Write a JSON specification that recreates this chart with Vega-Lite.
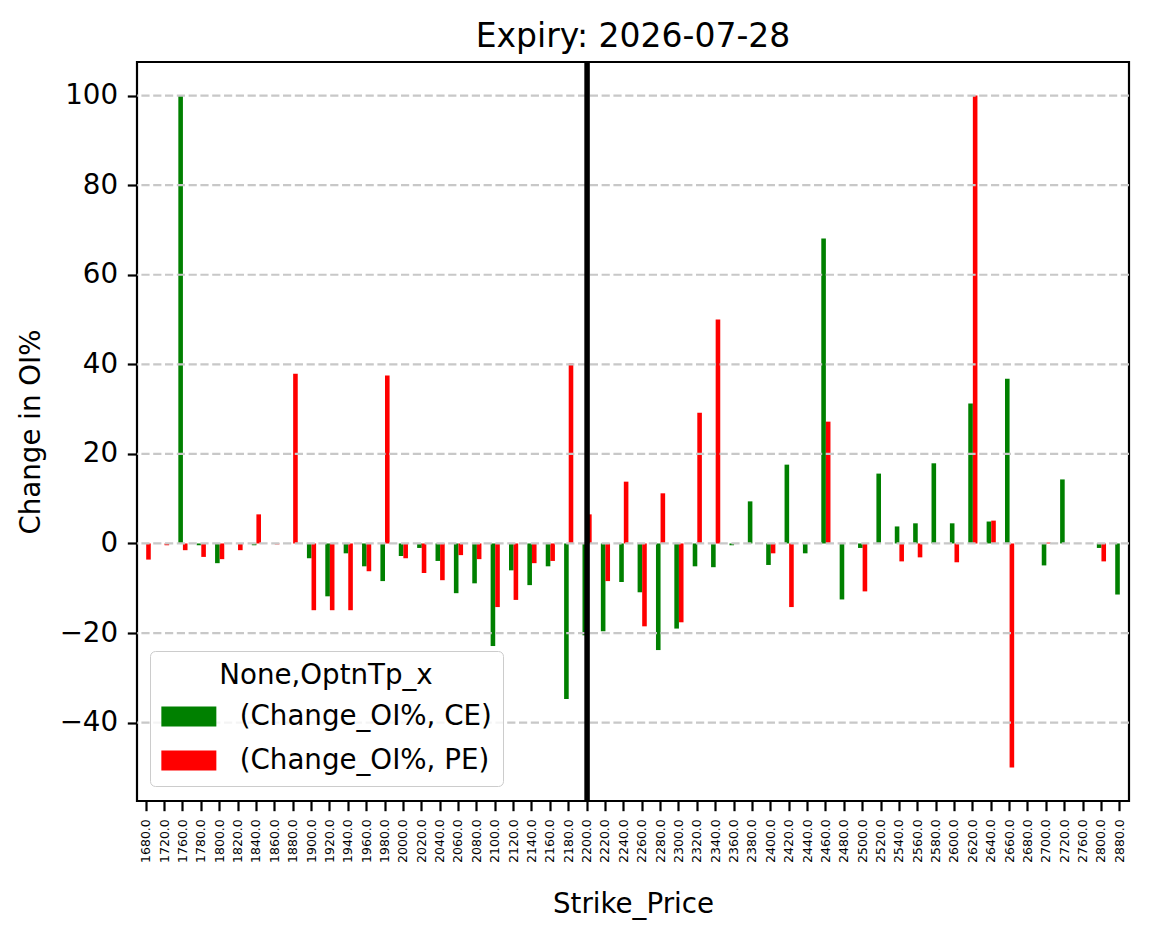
{
  "$schema": "https://vega.github.io/schema/vega-lite/v6.json",
  "width": 992,
  "height": 739,
  "autosize": {"type": "none"},
  "padding": {"left": 137, "top": 62, "right": 20, "bottom": 138},
  "title": {"text": "Expiry: 2026-07-28", "fontSize": 33, "font": "DejaVu Sans", "fontWeight": "normal", "color": "black", "offset": 5, "anchor": "middle"},
  "config": {
    "font": "DejaVu Sans",
    "view": {"stroke": "black", "strokeWidth": 2.2},
    "axis": {
      "domain": false, "grid": false, "ticks": true, "tickColor": "black", "tickWidth": 2.2, "tickSize": 9.7,
      "labelColor": "black", "labelPadding": 9.7, "titleColor": "black", "titleFontWeight": "normal", "titleFontSize": 27.7, "titleFont": "DejaVu Sans", "labelFont": "DejaVu Sans"
    },
    "legend": {
      "orient": "none", "legendX": 13, "legendY": 589,
      "titleFontSize": 27.7, "labelFontSize": 27.7, "titleFontWeight": "normal", "titleColor": "black", "labelColor": "black",
      "labelLimit": 0, "titleLimit": 0,
      "titleAnchor": "middle", "padding": 11, "strokeColor": "#cccccc", "fillColor": "rgba(255,255,255,0.8)", "cornerRadius": 5,
      "rowPadding": 15, "symbolType": "M-2.75,-1H2.75V1H-2.75Z", "symbolSize": 400, "symbolStrokeWidth": 0, "symbolOffset": 14, "labelOffset": 37, "titlePadding": 13
    }
  },
  "layer": [
    {
      "data": {"values": [
        {"strike": "1680.0", "series": "(Change_OI%, PE)", "value": -3.6},
        {"strike": "1720.0", "series": "(Change_OI%, PE)", "value": -0.4},
        {"strike": "1760.0", "series": "(Change_OI%, CE)", "value": 100},
        {"strike": "1760.0", "series": "(Change_OI%, PE)", "value": -1.5},
        {"strike": "1780.0", "series": "(Change_OI%, CE)", "value": -0.4},
        {"strike": "1780.0", "series": "(Change_OI%, PE)", "value": -3.0},
        {"strike": "1800.0", "series": "(Change_OI%, CE)", "value": -4.4},
        {"strike": "1800.0", "series": "(Change_OI%, PE)", "value": -3.5},
        {"strike": "1820.0", "series": "(Change_OI%, PE)", "value": -1.5},
        {"strike": "1840.0", "series": "(Change_OI%, CE)", "value": -0.4},
        {"strike": "1840.0", "series": "(Change_OI%, PE)", "value": 6.5},
        {"strike": "1860.0", "series": "(Change_OI%, PE)", "value": -0.2},
        {"strike": "1880.0", "series": "(Change_OI%, PE)", "value": 37.9},
        {"strike": "1900.0", "series": "(Change_OI%, CE)", "value": -3.3},
        {"strike": "1900.0", "series": "(Change_OI%, PE)", "value": -14.9},
        {"strike": "1920.0", "series": "(Change_OI%, CE)", "value": -11.8},
        {"strike": "1920.0", "series": "(Change_OI%, PE)", "value": -14.9},
        {"strike": "1940.0", "series": "(Change_OI%, CE)", "value": -2.2},
        {"strike": "1940.0", "series": "(Change_OI%, PE)", "value": -14.9},
        {"strike": "1960.0", "series": "(Change_OI%, CE)", "value": -5.1},
        {"strike": "1960.0", "series": "(Change_OI%, PE)", "value": -6.2},
        {"strike": "1980.0", "series": "(Change_OI%, CE)", "value": -8.4},
        {"strike": "1980.0", "series": "(Change_OI%, PE)", "value": 37.5},
        {"strike": "2000.0", "series": "(Change_OI%, CE)", "value": -2.8},
        {"strike": "2000.0", "series": "(Change_OI%, PE)", "value": -3.3},
        {"strike": "2020.0", "series": "(Change_OI%, CE)", "value": -1.0},
        {"strike": "2020.0", "series": "(Change_OI%, PE)", "value": -6.6},
        {"strike": "2040.0", "series": "(Change_OI%, CE)", "value": -3.9},
        {"strike": "2040.0", "series": "(Change_OI%, PE)", "value": -8.2},
        {"strike": "2060.0", "series": "(Change_OI%, CE)", "value": -11.1},
        {"strike": "2060.0", "series": "(Change_OI%, PE)", "value": -2.6},
        {"strike": "2080.0", "series": "(Change_OI%, CE)", "value": -8.9},
        {"strike": "2080.0", "series": "(Change_OI%, PE)", "value": -3.5},
        {"strike": "2100.0", "series": "(Change_OI%, CE)", "value": -22.9},
        {"strike": "2100.0", "series": "(Change_OI%, PE)", "value": -14.2},
        {"strike": "2120.0", "series": "(Change_OI%, CE)", "value": -6.0},
        {"strike": "2120.0", "series": "(Change_OI%, PE)", "value": -12.6},
        {"strike": "2140.0", "series": "(Change_OI%, CE)", "value": -9.3},
        {"strike": "2140.0", "series": "(Change_OI%, PE)", "value": -4.4},
        {"strike": "2160.0", "series": "(Change_OI%, CE)", "value": -5.1},
        {"strike": "2160.0", "series": "(Change_OI%, PE)", "value": -3.9},
        {"strike": "2180.0", "series": "(Change_OI%, CE)", "value": -34.7},
        {"strike": "2180.0", "series": "(Change_OI%, PE)", "value": 40.2},
        {"strike": "2200.0", "series": "(Change_OI%, CE)", "value": -20.5},
        {"strike": "2200.0", "series": "(Change_OI%, PE)", "value": 6.5},
        {"strike": "2220.0", "series": "(Change_OI%, CE)", "value": -19.6},
        {"strike": "2220.0", "series": "(Change_OI%, PE)", "value": -8.4},
        {"strike": "2240.0", "series": "(Change_OI%, CE)", "value": -8.6},
        {"strike": "2240.0", "series": "(Change_OI%, PE)", "value": 13.8},
        {"strike": "2260.0", "series": "(Change_OI%, CE)", "value": -10.9},
        {"strike": "2260.0", "series": "(Change_OI%, PE)", "value": -18.5},
        {"strike": "2280.0", "series": "(Change_OI%, CE)", "value": -23.8},
        {"strike": "2280.0", "series": "(Change_OI%, PE)", "value": 11.2},
        {"strike": "2300.0", "series": "(Change_OI%, CE)", "value": -19.0},
        {"strike": "2300.0", "series": "(Change_OI%, PE)", "value": -17.6},
        {"strike": "2320.0", "series": "(Change_OI%, CE)", "value": -5.1},
        {"strike": "2320.0", "series": "(Change_OI%, PE)", "value": 29.2},
        {"strike": "2340.0", "series": "(Change_OI%, CE)", "value": -5.3},
        {"strike": "2340.0", "series": "(Change_OI%, PE)", "value": 50.0},
        {"strike": "2360.0", "series": "(Change_OI%, CE)", "value": -0.4},
        {"strike": "2380.0", "series": "(Change_OI%, CE)", "value": 9.4},
        {"strike": "2400.0", "series": "(Change_OI%, CE)", "value": -4.8},
        {"strike": "2400.0", "series": "(Change_OI%, PE)", "value": -2.2},
        {"strike": "2420.0", "series": "(Change_OI%, CE)", "value": 17.6},
        {"strike": "2420.0", "series": "(Change_OI%, PE)", "value": -14.2},
        {"strike": "2440.0", "series": "(Change_OI%, CE)", "value": -2.2},
        {"strike": "2460.0", "series": "(Change_OI%, CE)", "value": 68.1},
        {"strike": "2460.0", "series": "(Change_OI%, PE)", "value": 27.2},
        {"strike": "2480.0", "series": "(Change_OI%, CE)", "value": -12.5},
        {"strike": "2500.0", "series": "(Change_OI%, CE)", "value": -1.0},
        {"strike": "2500.0", "series": "(Change_OI%, PE)", "value": -10.7},
        {"strike": "2520.0", "series": "(Change_OI%, CE)", "value": 15.6},
        {"strike": "2540.0", "series": "(Change_OI%, CE)", "value": 3.8},
        {"strike": "2540.0", "series": "(Change_OI%, PE)", "value": -4.0},
        {"strike": "2560.0", "series": "(Change_OI%, CE)", "value": 4.5},
        {"strike": "2560.0", "series": "(Change_OI%, PE)", "value": -3.1},
        {"strike": "2580.0", "series": "(Change_OI%, CE)", "value": 17.9},
        {"strike": "2600.0", "series": "(Change_OI%, CE)", "value": 4.5},
        {"strike": "2600.0", "series": "(Change_OI%, PE)", "value": -4.2},
        {"strike": "2620.0", "series": "(Change_OI%, CE)", "value": 31.25},
        {"strike": "2620.0", "series": "(Change_OI%, PE)", "value": 100},
        {"strike": "2640.0", "series": "(Change_OI%, CE)", "value": 4.9},
        {"strike": "2640.0", "series": "(Change_OI%, PE)", "value": 5.1},
        {"strike": "2660.0", "series": "(Change_OI%, CE)", "value": 36.8},
        {"strike": "2660.0", "series": "(Change_OI%, PE)", "value": -50},
        {"strike": "2700.0", "series": "(Change_OI%, CE)", "value": -4.9},
        {"strike": "2700.0", "series": "(Change_OI%, PE)", "value": 0.2},
        {"strike": "2720.0", "series": "(Change_OI%, CE)", "value": 14.3},
        {"strike": "2800.0", "series": "(Change_OI%, CE)", "value": -1.0},
        {"strike": "2800.0", "series": "(Change_OI%, PE)", "value": -4.0},
        {"strike": "2880.0", "series": "(Change_OI%, CE)", "value": -11.4}
      ]},
      "mark": {"type": "bar"},
      "encoding": {
        "x": {
          "field": "strike", "type": "nominal", "title": "Strike_Price",
          "scale": {"domain": ["1680.0","1720.0","1760.0","1780.0","1800.0","1820.0","1840.0","1860.0","1880.0","1900.0","1920.0","1940.0","1960.0","1980.0","2000.0","2020.0","2040.0","2060.0","2080.0","2100.0","2120.0","2140.0","2160.0","2180.0","2200.0","2220.0","2240.0","2260.0","2280.0","2300.0","2320.0","2340.0","2360.0","2380.0","2400.0","2420.0","2440.0","2460.0","2480.0","2500.0","2520.0","2540.0","2560.0","2580.0","2600.0","2620.0","2640.0","2660.0","2680.0","2700.0","2720.0","2760.0","2800.0","2880.0"], "paddingInner": 0, "paddingOuter": 0},
          "axis": {"labelAngle": -90, "labelFontSize": 12.5, "labelPadding": 8, "titlePadding": 28}
        },
        "xOffset": {"field": "series", "scale": {"domain": ["(Change_OI%, CE)", "(Change_OI%, PE)"], "paddingInner": 0, "paddingOuter": 1}},
        "y": {
          "field": "value", "type": "quantitative", "title": "Change in OI%",
          "scale": {"domain": [-57.5, 107.5], "nice": false},
          "axis": {"values": [-40, -20, 0, 20, 40, 60, 80, 100], "labelFontSize": 27.7, "titlePadding": 14}
        },
        "color": {
          "field": "series", "type": "nominal", "title": "None,OptnTp_x",
          "scale": {"domain": ["(Change_OI%, CE)", "(Change_OI%, PE)"], "range": ["#008000", "#ff0000"]}
        }
      }
    },
    {
      "data": {"values": [{"g": -40}, {"g": -20}, {"g": 0}, {"g": 20}, {"g": 40}, {"g": 60}, {"g": 80}, {"g": 100}]},
      "mark": {"type": "rule", "color": "#c8c8c8", "strokeWidth": 2.2, "strokeDash": [8.2, 3.6]},
      "encoding": {"y": {"field": "g", "type": "quantitative"}}
    },
    {
      "data": {"values": [{"strike": "2200.0"}]},
      "mark": {"type": "rule", "color": "black", "strokeWidth": 5.5},
      "encoding": {"x": {"field": "strike", "type": "nominal"}}
    }
  ]
}
